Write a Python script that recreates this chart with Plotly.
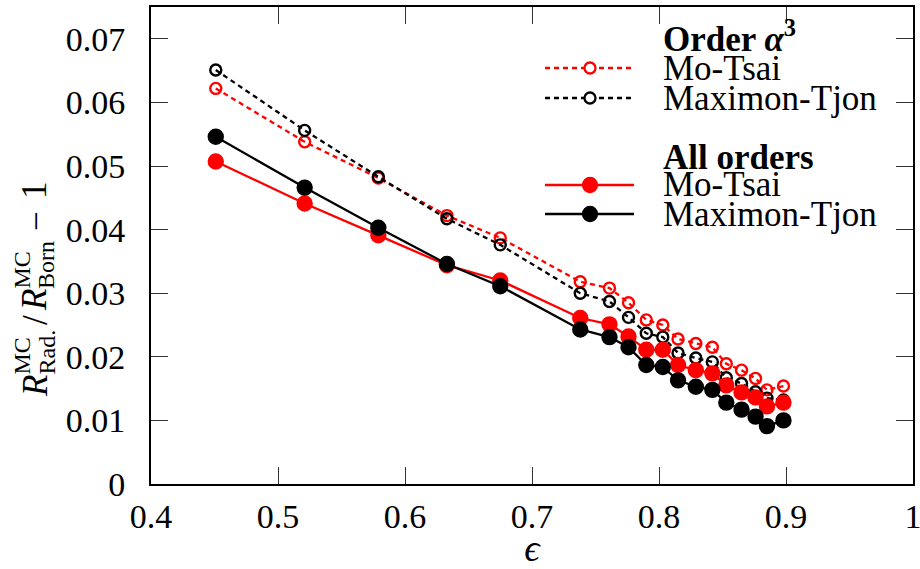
import plotly.graph_objects as go

# Beam parameter epsilon for each kinematic setting
eps = [0.451, 0.521, 0.579, 0.633, 0.675, 0.738, 0.761, 0.776, 0.790,
       0.803, 0.815, 0.829, 0.842, 0.853, 0.865, 0.876, 0.885, 0.898]

# Radiative correction ratio R_rad / R_born - 1, order alpha^3
mo_tsai_a3 = [0.0622, 0.0538, 0.0481, 0.0422, 0.0387, 0.0318, 0.0308, 0.0285, 0.0258,
              0.0250, 0.0228, 0.0221, 0.0215, 0.0189, 0.0179, 0.0166, 0.0148, 0.0154]
maximon_tjon_a3 = [0.0651, 0.0556, 0.0483, 0.0417, 0.0376, 0.0300, 0.0287, 0.0262, 0.0237,
                   0.0231, 0.0206, 0.0198, 0.0192, 0.0167, 0.0158, 0.0145, 0.0135, 0.0132]

# Same ratio, all orders
mo_tsai_all = [0.0507, 0.0441, 0.0391, 0.0344, 0.0320, 0.0261, 0.0251, 0.0232, 0.0211,
               0.0211, 0.0187, 0.0179, 0.0174, 0.0155, 0.0144, 0.0136, 0.0122, 0.0128]
maximon_tjon_all = [0.0546, 0.0466, 0.0403, 0.0346, 0.0311, 0.0243, 0.0231, 0.0215, 0.0187,
                    0.0184, 0.0163, 0.0153, 0.0148, 0.0128, 0.0117, 0.0106, 0.0091, 0.0100]

x_ticks = [0.4, 0.5, 0.6, 0.7, 0.8, 0.9, 1.0]
x_tick_text = ["0.4", "0.5", "0.6", "0.7", "0.8", "0.9", "1"]
y_ticks = [0, 0.01, 0.02, 0.03, 0.04, 0.05, 0.06, 0.07]
y_tick_text = ["0", "0.01", "0.02", "0.03", "0.04", "0.05", "0.06", "0.07"]

FONT = "Liberation Serif"
RED = "#ff0000"
BLACK = "#000000"
DOT = "5px,4px"

W, H = 920, 569
L, R, T, B = 151, 7, 7, 85
PW, PH = W - L - R, H - T - B


def px(xp):
    return (xp - L) / PW


def py(yp):
    return (H - B - yp) / PH


fig = go.Figure()

series = [
    (mo_tsai_a3, RED, DOT, "circle-open", 11),
    (maximon_tjon_a3, BLACK, DOT, "circle-open", 11),
    (mo_tsai_all, RED, "solid", "circle", 14),
    (maximon_tjon_all, BLACK, "solid", "circle", 14),
]
for vals, col, dash, sym, size in series:
    fig.add_trace(go.Scatter(
        x=eps, y=vals, mode="lines+markers",
        line=dict(color=col, width=2.3, dash=dash),
        marker=dict(symbol=sym, size=size, color=col, line=dict(color=col, width=2.4)),
        showlegend=False,
    ))

axis_common = dict(
    showline=True, linecolor="black", linewidth=2, mirror="ticks",
    ticks="inside", ticklen=17, tickwidth=1.3, tickcolor="#333333",
    showgrid=False, zeroline=False, automargin=False,
    ticklabeloverflow="allow",
    tickfont=dict(family=FONT, size=34, color="black"),
)

fig.update_xaxes(range=[0.4, 1.0], tickvals=x_ticks, ticktext=x_tick_text,
                 ticklabelstandoff=1,
                 title=dict(text="<i>ϵ</i>", font=dict(family=FONT, size=38, color="black"),
                            standoff=12),
                 **axis_common)
fig.update_yaxes(range=[0, 0.075], tickvals=y_ticks, ticktext=y_tick_text,
                 ticklabelstandoff=17, **axis_common)

# Y-axis label built from pieces so scripts stack over each other
MAIN, SCRIPT = 35, 24
y_label = [
    ("<i>R</i>", MAIN, 398, 35),
    ("MC", SCRIPT, 376, 21),
    ("Rad.", SCRIPT, 376, 46),
    ("/", MAIN, 326, 35),
    ("<i>R</i>", MAIN, 312, 35),
    ("MC", SCRIPT, 290, 21),
    ("Born", SCRIPT, 290, 46),
    ("−", MAIN, 232, 36),
    ("1", MAIN, 200, 35),
]
for text, size, ybot, xc in y_label:
    fig.add_annotation(text=text, textangle=-90, xref="paper", yref="paper",
                       x=px(xc), y=py(ybot), xanchor="center", yanchor="bottom",
                       showarrow=False, borderpad=0,
                       font=dict(family=FONT, size=size, color="black"))

# Legend
legend_rows = [
    ("<b>Order <i>α</i><sup>3</sup></b>", 37, None, None, None),
    ("Mo-Tsai", 68, RED, DOT, False),
    ("Maximon-Tjon", 98, BLACK, DOT, False),
    ("<b>All orders</b>", 157, None, None, None),
    ("Mo-Tsai", 185, RED, "solid", True),
    ("Maximon-Tjon", 214, BLACK, "solid", True),
]
for text, yp, col, dash, filled in legend_rows:
    fig.add_annotation(text=text, xref="paper", yref="paper", x=px(661), y=py(yp),
                       xanchor="left", yanchor="middle", showarrow=False,
                       font=dict(family=FONT, size=35, color="black"))
    if col is None:
        continue
    fig.add_shape(type="line", xref="paper", yref="paper",
                  x0=px(545), x1=px(634), y0=py(yp), y1=py(yp),
                  line=dict(color=col, width=2.3, dash=dash))
    r = 7 if filled else 5.5
    fig.add_shape(type="circle", xref="paper", yref="paper",
                  xsizemode="pixel", ysizemode="pixel",
                  xanchor=px(590), yanchor=py(yp),
                  x0=-r, x1=r, y0=-r, y1=r,
                  fillcolor=col if filled else "white",
                  line=dict(color=col, width=2.3))

fig.update_layout(
    width=W, height=H,
    margin=dict(l=L, r=R, t=T, b=B),
    paper_bgcolor="white", plot_bgcolor="white",
    showlegend=False,
    font=dict(family=FONT, color="black"),
)

fig.write_html("out.html")
